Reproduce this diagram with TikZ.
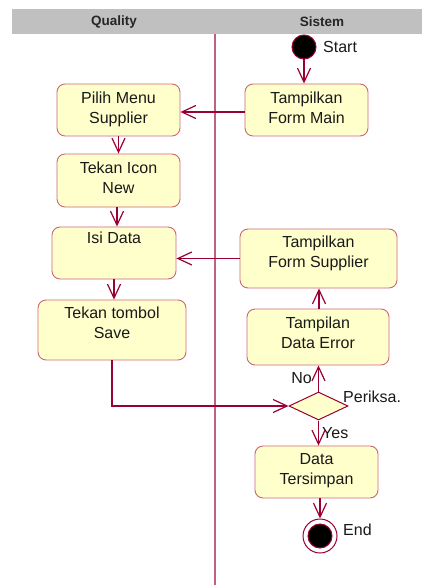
\documentclass[tikz,border=0pt]{standalone}
\usepackage{fontspec}
\setmainfont{Liberation Sans}
\usetikzlibrary{arrows.meta,shapes.geometric,calc}
\definecolor{arrowc}{HTML}{990033}
\definecolor{boxedge}{HTML}{CC6677}
\definecolor{boxfill}{HTML}{FFFFCC}
\definecolor{lanec}{HTML}{C06085}
\definecolor{headc}{HTML}{C0C0C0}
\begin{document}
\begin{tikzpicture}[x=1pt,y=-1pt,
  actbox/.style={draw=boxedge,fill=boxfill,line width=0.9pt,rounded corners=8pt,inner sep=0pt},
  acttext/.style={anchor=north,inner sep=0pt,align=center,font=\fontsize{16}{20}\selectfont,text=black!90},
  flow/.style={draw=arrowc,line width=1.2pt,-{Straight Barb[length=14pt,width=13pt]}},
  lbl/.style={inner sep=0pt,font=\fontsize{16}{20}\selectfont,text=black!90},
  headtxt/.style={inner sep=0pt,font=\fontsize{13.5}{16}\selectfont\bfseries,text=black!85}]
\useasboundingbox (0,0) rectangle (422,585);
% header
\fill[headc] (12,9) rectangle (422,34);
\node[headtxt] (hq) at (114,22) {Quality};
\node[headtxt] (hs) at (322,22) {Sistem};
% lane divider
\draw[lanec,line width=1.8pt] (215,34) -- (215,585);
% boxes
\node[actbox,minimum width=123pt,minimum height=52pt] (tfm) at (306.5,110) {};
\node[actbox,minimum width=123pt,minimum height=52pt] (pms) at (118.5,110) {};
\node[actbox,minimum width=123pt,minimum height=53pt] (tin) at (118.5,180.5) {};
\node[actbox,minimum width=124pt,minimum height=52pt] (isi) at (114,253) {};
\node[actbox,minimum width=148pt,minimum height=60pt] (tts) at (112,330) {};
\node[actbox,minimum width=157pt,minimum height=59pt] (tfs) at (318.5,258.5) {};
\node[actbox,minimum width=142pt,minimum height=56pt] (tde) at (318,337) {};
\node[actbox,minimum width=123pt,minimum height=52pt] (dt) at (316.5,472) {};
% texts
\node[acttext] (tfmt) at ($(tfm.north)+(0,6)$) {\strut Tampilkan\\Form Main};
\node[acttext] (pmst) at ($(pms.north)+(0,6)$) {\strut Pilih Menu\\Supplier};
\node[acttext] (tint) at ($(tin.north)+(0,6)$) {\strut Tekan Icon\\New};
\node[acttext] (isit) at ($(isi.north)+(0,3)$) {\strut Isi Data};
\node[acttext] (ttst) at ($(tts.north)+(0,4.5)$) {\strut Tekan tombol\\Save};
\node[acttext] (tfst) at ($(tfs.north)+(0,4.5)$) {\strut Tampilkan\\Form Supplier};
\node[acttext] (tdet) at ($(tde.north)+(0,5.5)$) {\strut Tampilan\\Data Error};
\node[acttext] (dtt) at ($(dt.north)+(0,4.5)$) {\strut Data\\Tersimpan};
% decision
\node[diamond,draw=arrowc,fill=boxfill,line width=1pt,inner sep=0pt,minimum width=59pt,minimum height=28pt] (dia) at (318.5,406) {};
% start / end
\node[circle,draw=arrowc,fill=black,line width=1pt,minimum size=24pt,inner sep=0pt] (start) at (304,47) {};
\node[circle,draw=arrowc,fill=white,line width=1pt,minimum size=34pt,inner sep=0pt] (endo) at (320,536) {};
\node[circle,draw=arrowc,fill=black,line width=1pt,minimum size=24pt,inner sep=0pt] (endi) at (endo) {};
% labels
\node[lbl,anchor=west] (lstart) at (323,47) {Start};
\node[lbl,anchor=east] (lno) at (312,378) {No};
\node[lbl,anchor=west] (lper) at (343,397) {Periksa.};
\node[lbl,anchor=west] (lyes) at (322,433) {Yes};
\node[lbl,anchor=west] (lend) at (343,530) {End};
% connectors
\draw[flow] (start) -- (start |- tfm.north);
\draw[flow] ($(tfm.west)+(0,2)$) -- ($(pms.east)+(0,2)$);
\draw[flow] (pms.south) -- (pms.south |- tin.north);
\draw[flow] ($(tin.south)+(-1.5,0)$) -- ($(tin.south |- isi.north)+(-1.5,0)$);
\draw[flow] (isi.south) -- (isi.south |- tts.north);
\draw[flow] (tfs.west) -- (tfs.west -| isi.east);
\draw[flow] ($(tde.north)+(1,0)$) -- ($(tde.north |- tfs.south)+(1,0)$);
\draw[flow] (dia.north) -- (dia.north |- tde.south);
\draw[flow] (tts.south) |- (dia.west);
\draw[flow] (dia.south) -- (dia.south |- dt.north);
\draw[flow] (endo |- dt.south) -- (endo.north);
\end{tikzpicture}
\end{document}
